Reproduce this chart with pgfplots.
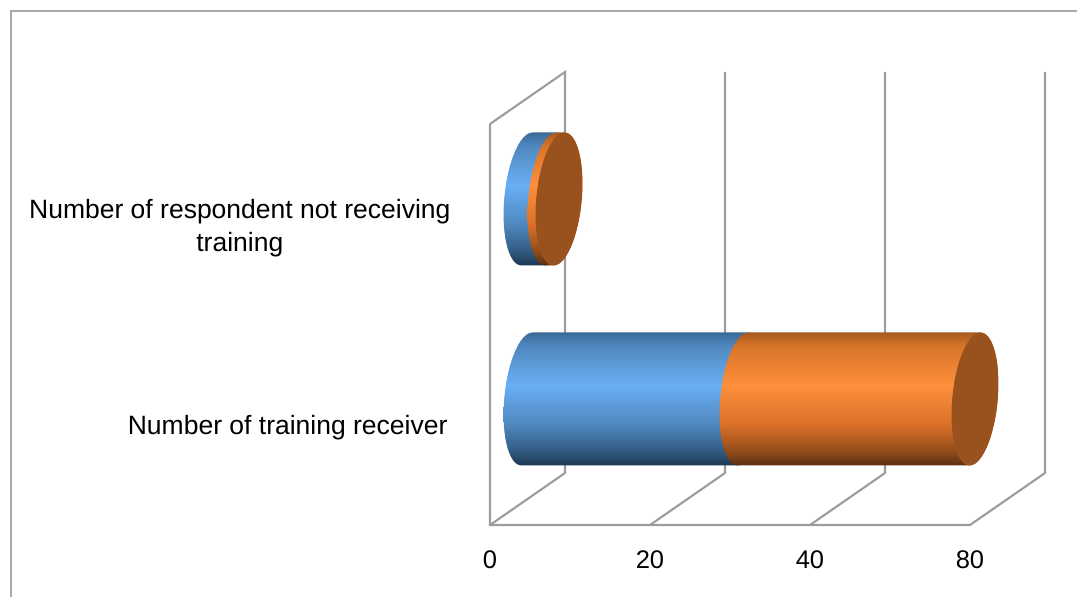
\documentclass[border=0pt]{standalone}
\usepackage{fontspec}
\setmainfont{Liberation Sans}
\usepackage{pgfplots}
\usepackage{pgfplotstable}
\pgfplotsset{compat=1.18}

\definecolor{frameline}{HTML}{A8A8A8}
\definecolor{gridline}{HTML}{9C9C9C}
\definecolor{capbrown}{HTML}{99521E}

\definecolor{bA}{HTML}{1C3651}\definecolor{bB}{HTML}{30587F}\definecolor{bC}{HTML}{4F86BC}
\definecolor{bD}{HTML}{69AFF3}\definecolor{bE}{HTML}{5088BF}\definecolor{bF}{HTML}{3A6A97}
\definecolor{oA}{HTML}{5A2E0F}\definecolor{oB}{HTML}{8F4A1A}\definecolor{oC}{HTML}{D86F28}
\definecolor{oD}{HTML}{FE903C}\definecolor{oE}{HTML}{D87428}\definecolor{oF}{HTML}{A55A1E}

% Cylinder body shadings: the path's box spans 25bp to 75bp
\pgfdeclareverticalshading{bluecyl}{100bp}{color(0bp)=(bA); color(25bp)=(bA); color(30bp)=(bB);
  color(40bp)=(bC); color(55bp)=(bD); color(70bp)=(bE); color(75bp)=(bF); color(100bp)=(bF)}
\pgfdeclareverticalshading{orangecyl}{100bp}{color(0bp)=(oA); color(25bp)=(oA); color(30bp)=(oB);
  color(40bp)=(oC); color(55bp)=(oD); color(70bp)=(oE); color(75bp)=(oF); color(100bp)=(oF)}

% Outline of the tilted cylinder section: dx, dy from its centre.
% e = 0 on the left half, e = 1 on the right half.
\pgfplotstableread{
dx dy e
0.940 0.3325 0
0.568 0.3296 0
0.186 0.3212 0
-0.200 0.3072 0
-0.581 0.2880 0
-0.952 0.2638 0
-1.308 0.2351 0
-1.642 0.2024 0
-1.946 0.1663 0
-2.218 0.1272 0
-2.452 0.0861 0
-2.643 0.0434 0
-2.790 0 0
-2.889 -0.0434 0
-2.938 -0.0861 0
-2.938 -0.1272 0
-2.886 -0.1663 0
-2.786 -0.2024 0
-2.638 -0.2351 0
-2.444 -0.2638 0
-2.209 -0.2880 0
-1.936 -0.3072 0
-1.630 -0.3212 0
-1.296 -0.3296 0
-0.940 -0.3325 0
-0.940 -0.3325 1
-0.568 -0.3296 1
-0.186 -0.3212 1
0.200 -0.3072 1
0.581 -0.2880 1
0.952 -0.2638 1
1.308 -0.2351 1
1.642 -0.2024 1
1.946 -0.1663 1
2.218 -0.1272 1
2.452 -0.0861 1
2.643 -0.0434 1
2.790 0 1
2.889 0.0434 1
2.938 0.0861 1
2.938 0.1272 1
2.886 0.1663 1
2.786 0.2024 1
2.638 0.2351 1
2.444 0.2638 1
2.209 0.2880 1
1.936 0.3072 1
1.630 0.3212 1
1.296 0.3296 1
0.940 0.3325 1
}\sectionoutline

% Depth of the bar plane behind the front of the floor
\def\barshiftx{4.625}
\def\barshifty{0.135}

% #1 shading, #2 category, #3 start value, #4 length
\newcommand{\cylbody}[4]{%
  \addplot[draw=none, shading=#1] table[
    x expr=1.0215*\thisrow{dx}-0.82*\thisrow{dy}+#3+\barshiftx+\thisrow{e}*#4,
    y expr=\thisrow{dy}+#2+\barshifty] {\sectionoutline} --cycle;
}
% #1 category, #2 end value
\newcommand{\cylcap}[2]{%
  \addplot[draw=none, fill=capbrown] table[
    x expr=1.0215*\thisrow{dx}-0.82*\thisrow{dy}+#2+\barshiftx,
    y expr=\thisrow{dy}+#1+\barshifty] {\sectionoutline} --cycle;
}

\begin{document}
\begin{tikzpicture}[x=1pt,y=1pt]
\useasboundingbox (0,0) rectangle (1077,597);
\draw[frameline, line width=2pt] (10.5,0) -- (10.5,586) -- (1077,586);
\begin{axis}[
  at={(490pt,72pt)}, anchor=south west,
  scale only axis, width=480pt, height=401pt,
  xmin=0, xmax=60, ymin=-0.495, ymax=1.51,
  clip=false,
  axis line style={draw=none},
  major tick length=0pt,
  xtick={0,20,40,60},
  xticklabels={0,20,40,80},
  ytick={0,1},
  yticklabels={{Number of training receiver\kern3pt},{Number of respondent not receiving\\training}},
  xticklabel style={font=\fontsize{25.5}{30}\selectfont, anchor=center, yshift=-35pt,
    /pgf/number format/assume math mode=true},
  yticklabel style={font=\fontsize{26.5}{33}\selectfont, align=center, anchor=east, xshift=-36pt, yshift=-2pt},
]
% Floor and wall grid
\addplot[gridline, line width=2.1pt, line join=miter] coordinates
  {(0,1.51) (0,-0.495) (60,-0.495) (69.375,-0.235) (69.375,1.77)};
\addplot[gridline, line width=2.1pt] coordinates
  {(0,1.51) (9.375,1.77) (9.375,-0.235) (0,-0.495)};
\addplot[gridline, line width=2.1pt] coordinates
  {(20,-0.495) (29.375,-0.235) (29.375,1.77)};
\addplot[gridline, line width=2.1pt] coordinates
  {(40,-0.495) (49.375,-0.235) (49.375,1.77)};

% Number of training receiver: 27 and 29
\cylbody{bluecyl}{0}{0}{27}
\cylbody{orangecyl}{0}{27}{29}
\cylcap{0}{56}

% Number of respondent not receiving training: 3 and 1
\cylbody{bluecyl}{1}{0}{3}
\cylbody{orangecyl}{1}{3}{1}
\cylcap{1}{4}
\end{axis}
\end{tikzpicture}
\end{document}
